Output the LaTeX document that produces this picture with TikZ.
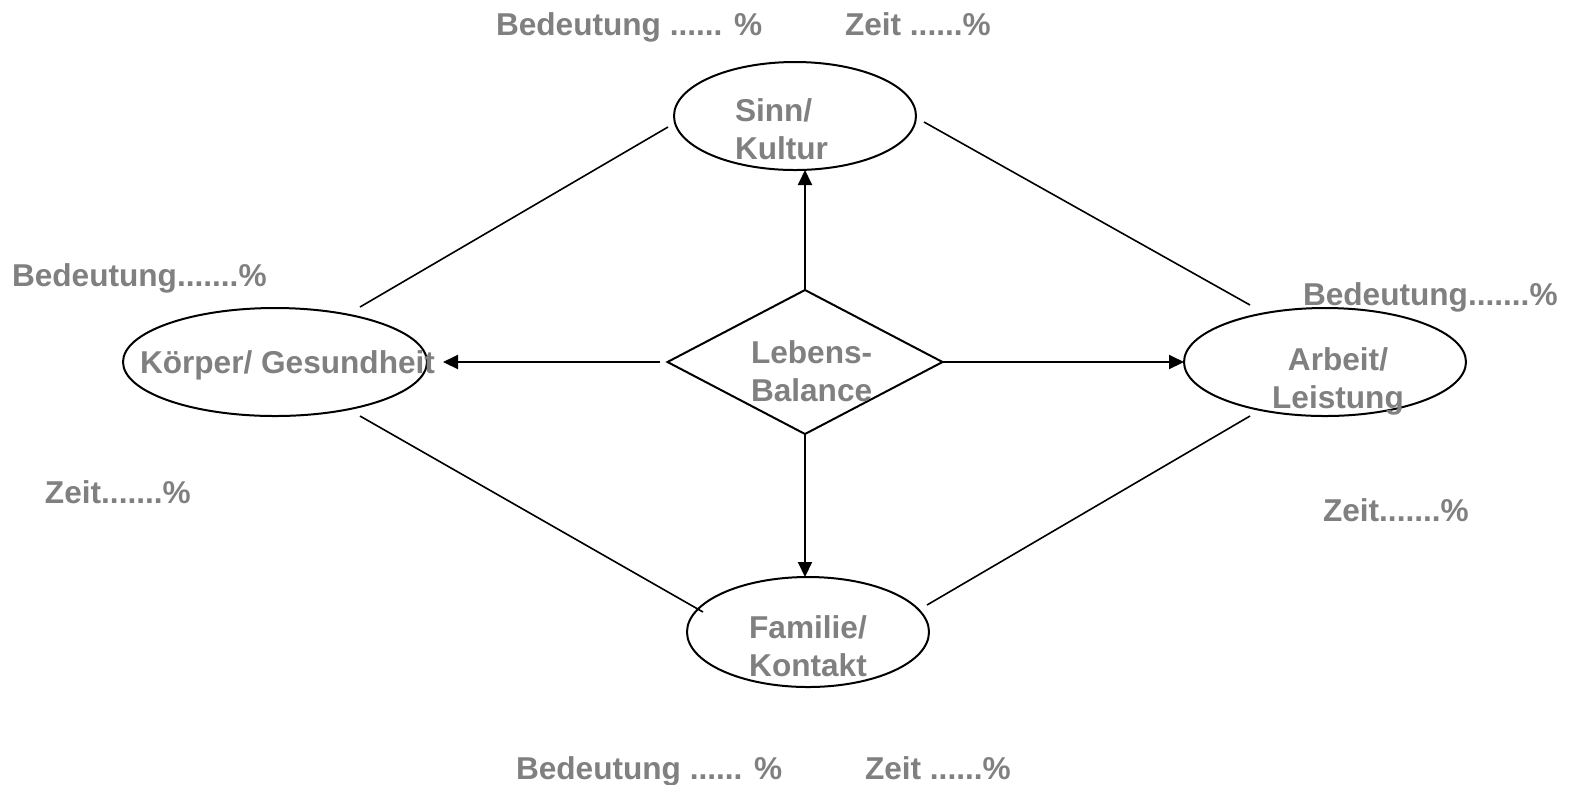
\documentclass[tikz,border=0pt]{standalone}
\usepackage{fontspec}
\setmainfont{Liberation Sans}
\usetikzlibrary{shapes.geometric,arrows.meta,calc}
\definecolor{txtgray}{HTML}{808080}
\tikzset{
  oval/.style={draw, ellipse, line width=1pt, inner sep=0pt, outer sep=0pt},
  rhomb/.style={draw, diamond, line width=1pt, inner sep=0pt, outer sep=0pt},
  lbl/.style={text=txtgray, font=\fontsize{15.8}{19}\selectfont\bfseries, inner sep=0pt, outer sep=0pt, anchor=base west},
  lblc/.style={lbl, align=left},
  conn/.style={line width=0.8pt},
  arr/.style={line width=1pt, -{Triangle[length=7.5pt,width=7pt]}}
}
\begin{document}
\begin{tikzpicture}[x=0.5pt,y=-0.5pt]
\useasboundingbox (0,0) rectangle (1570,784);
% shapes
\node[oval, minimum width=121pt, minimum height=54pt] (sinn) at (795,116) {};
\node[oval, minimum width=152pt, minimum height=54pt] (koerper) at (275,362) {};
\node[oval, minimum width=141pt, minimum height=54pt] (arbeit) at (1325,362) {};
\node[oval, minimum width=121pt, minimum height=55pt] (familie) at (808,632) {};
\node[rhomb, minimum width=137.5pt, minimum height=72pt] (bal) at (805,362) {};
% texts (base anchor = baseline of the last line)
\node[lblc] (tsinn) at (735,159) {Sinn/\\Kultur};
\node[lbl] (tkoerper) at (140,373) {Körper/ Gesundheit};
\node[lblc, align=center, anchor=base] (tarbeit) at (1338,408) {Arbeit/\\Leistung};
\node[lblc, align=center, anchor=base] (tfamilie) at (808,676) {Familie/\\Kontakt};
\node[lblc] (tbal) at (751,401) {Lebens-\\Balance};
\node[lbl] (b1) at (496,35) {Bedeutung ...... \%};
\node[lbl] (z1) at (845,35) {Zeit ......\%};
\node[lbl] (b2) at (12,286) {Bedeutung.......\%};
\node[lbl] (z2) at (45,503) {Zeit.......\%};
\node[lbl] (b3) at (1303,305) {Bedeutung.......\%};
\node[lbl] (z3) at (1323,521) {Zeit.......\%};
\node[lbl] (b4) at (516,779) {Bedeutung ...... \%};
\node[lbl] (z4) at (865,779) {Zeit ......\%};
% connector end points
\coordinate (s1) at (668,127);
\coordinate (k1) at (360,307);
\coordinate (s2) at (924,122);
\coordinate (a1) at (1250,305);
\coordinate (k2) at (360,416);
\coordinate (f1) at (703,612);
\coordinate (a2) at (1250,416);
\coordinate (f2) at (927,605);
\draw[conn] (s1) -- (k1);
\draw[conn] (s2) -- (a1);
\draw[conn] (k2) -- (f1);
\draw[conn] (a2) -- (f2);
% arrows
\draw[arr] (bal.north) -- (bal.north |- sinn.south);
\draw[arr] ($(bal.west)+(-8,0)$) -- ($(koerper.east)+(16,0)$);
\draw[arr] (bal.east) -- (arbeit.west);
\draw[arr] (bal.south) -- (bal.south |- familie.north);
\end{tikzpicture}
\end{document}
